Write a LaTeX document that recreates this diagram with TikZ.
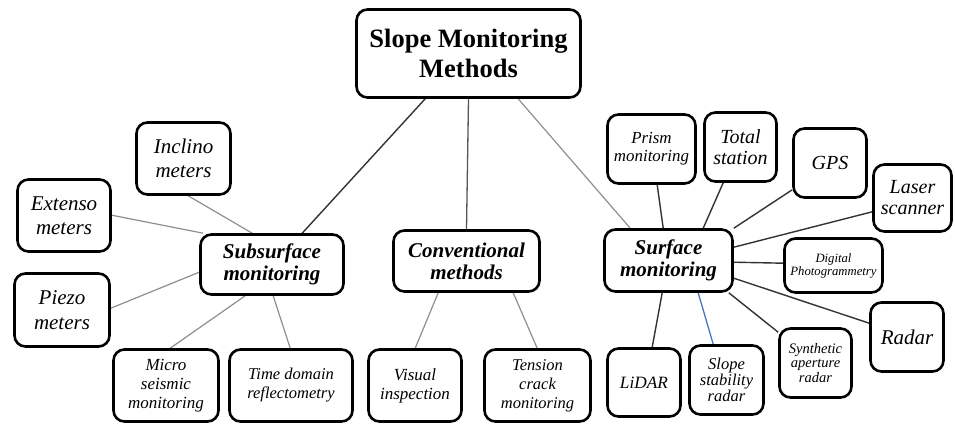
\documentclass[tikz,border=0pt]{standalone}
\usepackage{fontspec}
\setmainfont{Liberation Serif}
\usetikzlibrary{calc,backgrounds}
\definecolor{darkln}{HTML}{333333}
\definecolor{midln}{HTML}{555555}
\definecolor{grayln}{HTML}{8E8E8E}
\definecolor{blueln}{HTML}{4A74C0}
\newcommand{\fs}[2]{\fontsize{#1}{#2}\selectfont}
\tikzset{
  box/.style={draw, line width=2.6pt, rounded corners=11pt, fill=white, inner sep=0pt, align=center},
  it/.style 2 args={font=\fs{#1}{#2}\itshape},
  bi/.style 2 args={font=\fs{#1}{#2}\bfseries\itshape},
  dk/.style={draw=darkln, line width=1.4pt},
  md/.style={draw=midln, line width=1.3pt},
  gr/.style={draw=grayln, line width=1.2pt},
  bl/.style={draw=blueln, line width=1.3pt},
}
\begin{document}
\begin{tikzpicture}[x=1pt,y=-1pt]
\useasboundingbox (0,0) rectangle (955,425);
\node[box, font=\fs{26.5}{30}\bfseries, minimum width=224, minimum height=88] (T) at (468.5,53.5) {Slope Monitoring\\Methods};
\node[box, it={21}{24}, minimum width=94, minimum height=72] (inc) at (183.5,158.5) {Inclino\\meters};
\node[box, it={21}{24}, minimum width=93, minimum height=72] (ext) at (64,215.5) {Extenso\\meters};
\node[box, it={21}{25}, minimum width=95, minimum height=73] (pie) at (62,310) {Piezo\\meters};
\node[box, bi={21}{22}, minimum width=143, minimum height=60] (sub) at (272,264.5) {Subsurface\\monitoring};
\node[box, it={17}{19}, minimum width=105, minimum height=72] (mic) at (166,385.5) {Micro\\seismic\\monitoring};
\node[box, it={16.5}{19}, minimum width=123, minimum height=72] (tdr) at (291,385.5) {Time domain\\reflectometry};
\node[box, it={17}{19}, minimum width=93, minimum height=72] (vis) at (415,385.5) {Visual\\inspection};
\node[box, bi={21}{22}, minimum width=146, minimum height=61] (conv) at (466.5,261) {Conventional\\methods};
\node[box, it={16.5}{19}, minimum width=106, minimum height=72] (ten) at (537.5,385.5) {Tension\\crack\\monitoring};
\node[box, bi={21}{22}, minimum width=128, minimum height=62] (surf) at (668.5,260.5) {Surface\\monitoring};
\node[box, it={17.3}{19}, minimum width=73, minimum height=68] (lid) at (644,382.5) {LiDAR};
\node[box, it={16.5}{16}, minimum width=74, minimum height=69] (ssr) at (726.5,380) {Slope\\stability\\radar};
\node[box, it={14.5}{14.5}, minimum width=72, minimum height=69] (sar) at (815.5,363) {Synthetic\\aperture\\radar};
\node[box, it={21}{24}, minimum width=73, minimum height=69] (rad) at (907,337) {Radar};
\node[box, it={12.7}{13}, minimum width=98, minimum height=54] (dig) at (833.5,265.5) {Digital\\Photogrammetry};
\node[box, it={20}{21}, minimum width=78, minimum height=67] (las) at (912.5,198) {Laser\\scanner};
\node[box, it={20}{24}, minimum width=73, minimum height=69] (gps) at (830,163) {GPS};
\node[box, it={20}{21}, minimum width=72, minimum height=69] (tot) at (740.5,147) {Total\\station};
\node[box, it={16.9}{18}, minimum width=88, minimum height=69] (pri) at (651.5,149) {Prism\\monitoring};
\begin{scope}[on background layer]
\draw[dk] ($(T.south west)+(70,0)$) -- ($(sub.north west)+(103,0)$);
\draw[md] (T.south) -- (conv.north);
\draw[gr] ($(T.south west)+(163,0)$) -- ($(surf.north west)+(27,0)$);
% subsurface
\draw[gr] ($(inc.south west)+(53,0)$) -- ($(sub.north west)+(53,0)$);
\draw[gr] ($(ext.north east)+(0,37)$) -- ($(sub.north west)+(4,0)$);
\draw[gr] ($(pie.north east)+(0,36)$) -- ($(sub.north west)+(0,39)$);
\draw[gr] ($(mic.north west)+(58,0)$) -- ($(sub.south west)+(46,0)$);
\draw[gr] ($(tdr.north west)+(62,0)$) -- ($(sub.south west)+(74,0)$);
% conventional
\draw[gr] ($(vis.north west)+(48,0)$) -- ($(conv.south west)+(46,0)$);
\draw[gr] ($(ten.north west)+(54,0)$) -- ($(conv.south west)+(121,0)$);
% surface
\draw[dk] ($(pri.south west)+(51,0)$) -- ($(surf.north west)+(60,0)$);
\draw[dk] ($(tot.south west)+(20,0)$) -- ($(surf.north west)+(100,0)$);
\draw[dk] ($(gps.south west)+(0,-9)$) -- (surf.north east);
\draw[dk] ($(las.south west)+(0,-21)$) -- ($(surf.north east)+(0,19)$);
\draw[dk] ($(dig.north west)+(0,26)$) -- ($(surf.north east)+(0,34)$);
\draw[dk] ($(rad.north west)+(0,22)$) -- ($(surf.north east)+(0,50)$);
\draw[dk] ($(sar.north west)+(0,5)$) -- ($(surf.south east)+(-5,0)$);
\draw[bl] ($(ssr.north west)+(25,0)$) -- ($(surf.south west)+(95,0)$);
\draw[dk] ($(lid.north west)+(46,0)$) -- ($(surf.south west)+(59,0)$);
\end{scope}
\end{tikzpicture}
\end{document}
